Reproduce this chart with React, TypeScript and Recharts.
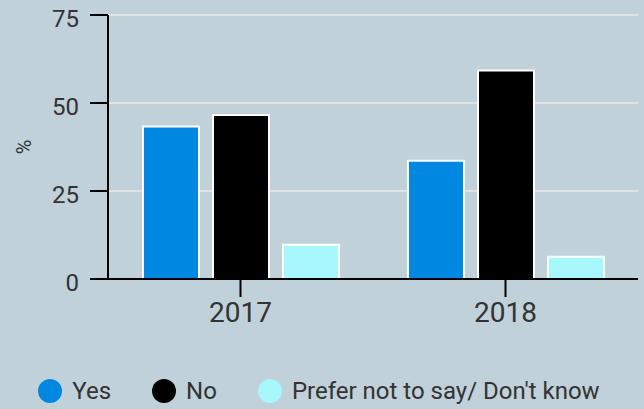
import React from "react"
import { Bar, BarChart, CartesianGrid, Legend, XAxis, YAxis } from "recharts"

const years = ["2017", "2018"]
const yes = [43.3, 33.6]
const no = [46.6, 59.2]
const preferNot = [9.7, 6.3]
const yTicks = [0, 25, 50, 75]

const series = [
  { key: "yes", name: "Yes", color: "#0088e0" },
  { key: "no", name: "No", color: "#000000" },
  { key: "prefer", name: "Prefer not to say/ Don't know", color: "#a6f8fc" },
]

const data = years.map((year, i) => ({
  year,
  yes: yes[i],
  no: no[i],
  prefer: preferNot[i],
}))

const textColor = "#333333"

function LegendContent() {
  return (
    <div
      style={{
        height: 30,
        display: "flex",
        justifyContent: "center",
        alignItems: "center",
        gap: 41,
        fontSize: 24,
        color: textColor,
      }}
    >
      {series.map((s) => (
        <div key={s.key} style={{ display: "flex", alignItems: "center", gap: 10 }}>
          <span
            style={{
              width: 24,
              height: 24,
              borderRadius: "50%",
              background: s.color,
              display: "inline-block",
            }}
          />
          <span>{s.name}</span>
        </div>
      ))}
    </div>
  )
}

function PercentLabel(props: any) {
  const vb = props.viewBox || {}
  const cy = (vb.y || 0) + (vb.height || 0) / 2
  return (
    <text
      x={24}
      y={cy}
      transform={`rotate(-90, 24, ${cy})`}
      textAnchor="middle"
      dominantBaseline="central"
      fontSize={20}
      fill={textColor}
    >
      %
    </text>
  )
}

export default function App() {
  return (
    <div
      style={{
        position: "absolute",
        left: 0,
        top: 0,
        width: 644,
        height: 409,
        background: "#c0d1da",
        fontFamily: "Roboto, sans-serif",
      }}
    >
      <BarChart
        width={644}
        height={409}
        data={data}
        margin={{ top: 15, right: 6, bottom: 3, left: 0 }}
        barSize={56}
        barGap={14}
      >
        <CartesianGrid vertical={false} stroke="#e2e2e2" strokeWidth={2} />
        <XAxis
          dataKey="year"
          height={97}
          axisLine={{ stroke: "#000", strokeWidth: 2 }}
          tickLine={{ stroke: "#000", strokeWidth: 2 }}
          tickSize={18}
          tickMargin={5}
          tick={{ fontSize: 28, fill: textColor }}
        />
        <YAxis
          width={108}
          domain={[0, 75]}
          ticks={yTicks}
          interval={0}
          axisLine={{ stroke: "#000", strokeWidth: 2 }}
          tickLine={{ stroke: "#000", strokeWidth: 2 }}
          tickSize={18}
          tickMargin={11}
          tick={{ fontSize: 24, fill: textColor, dy: 3 }}
          label={<PercentLabel />}
        />
        <Legend verticalAlign="bottom" content={<LegendContent />} />
        {series.map((s) => (
          <Bar
            key={s.key}
            dataKey={s.key}
            name={s.name}
            fill={s.color}
            stroke="#ffffff"
            strokeWidth={2}
            isAnimationActive={false}
          />
        ))}
      </BarChart>
    </div>
  )
}
